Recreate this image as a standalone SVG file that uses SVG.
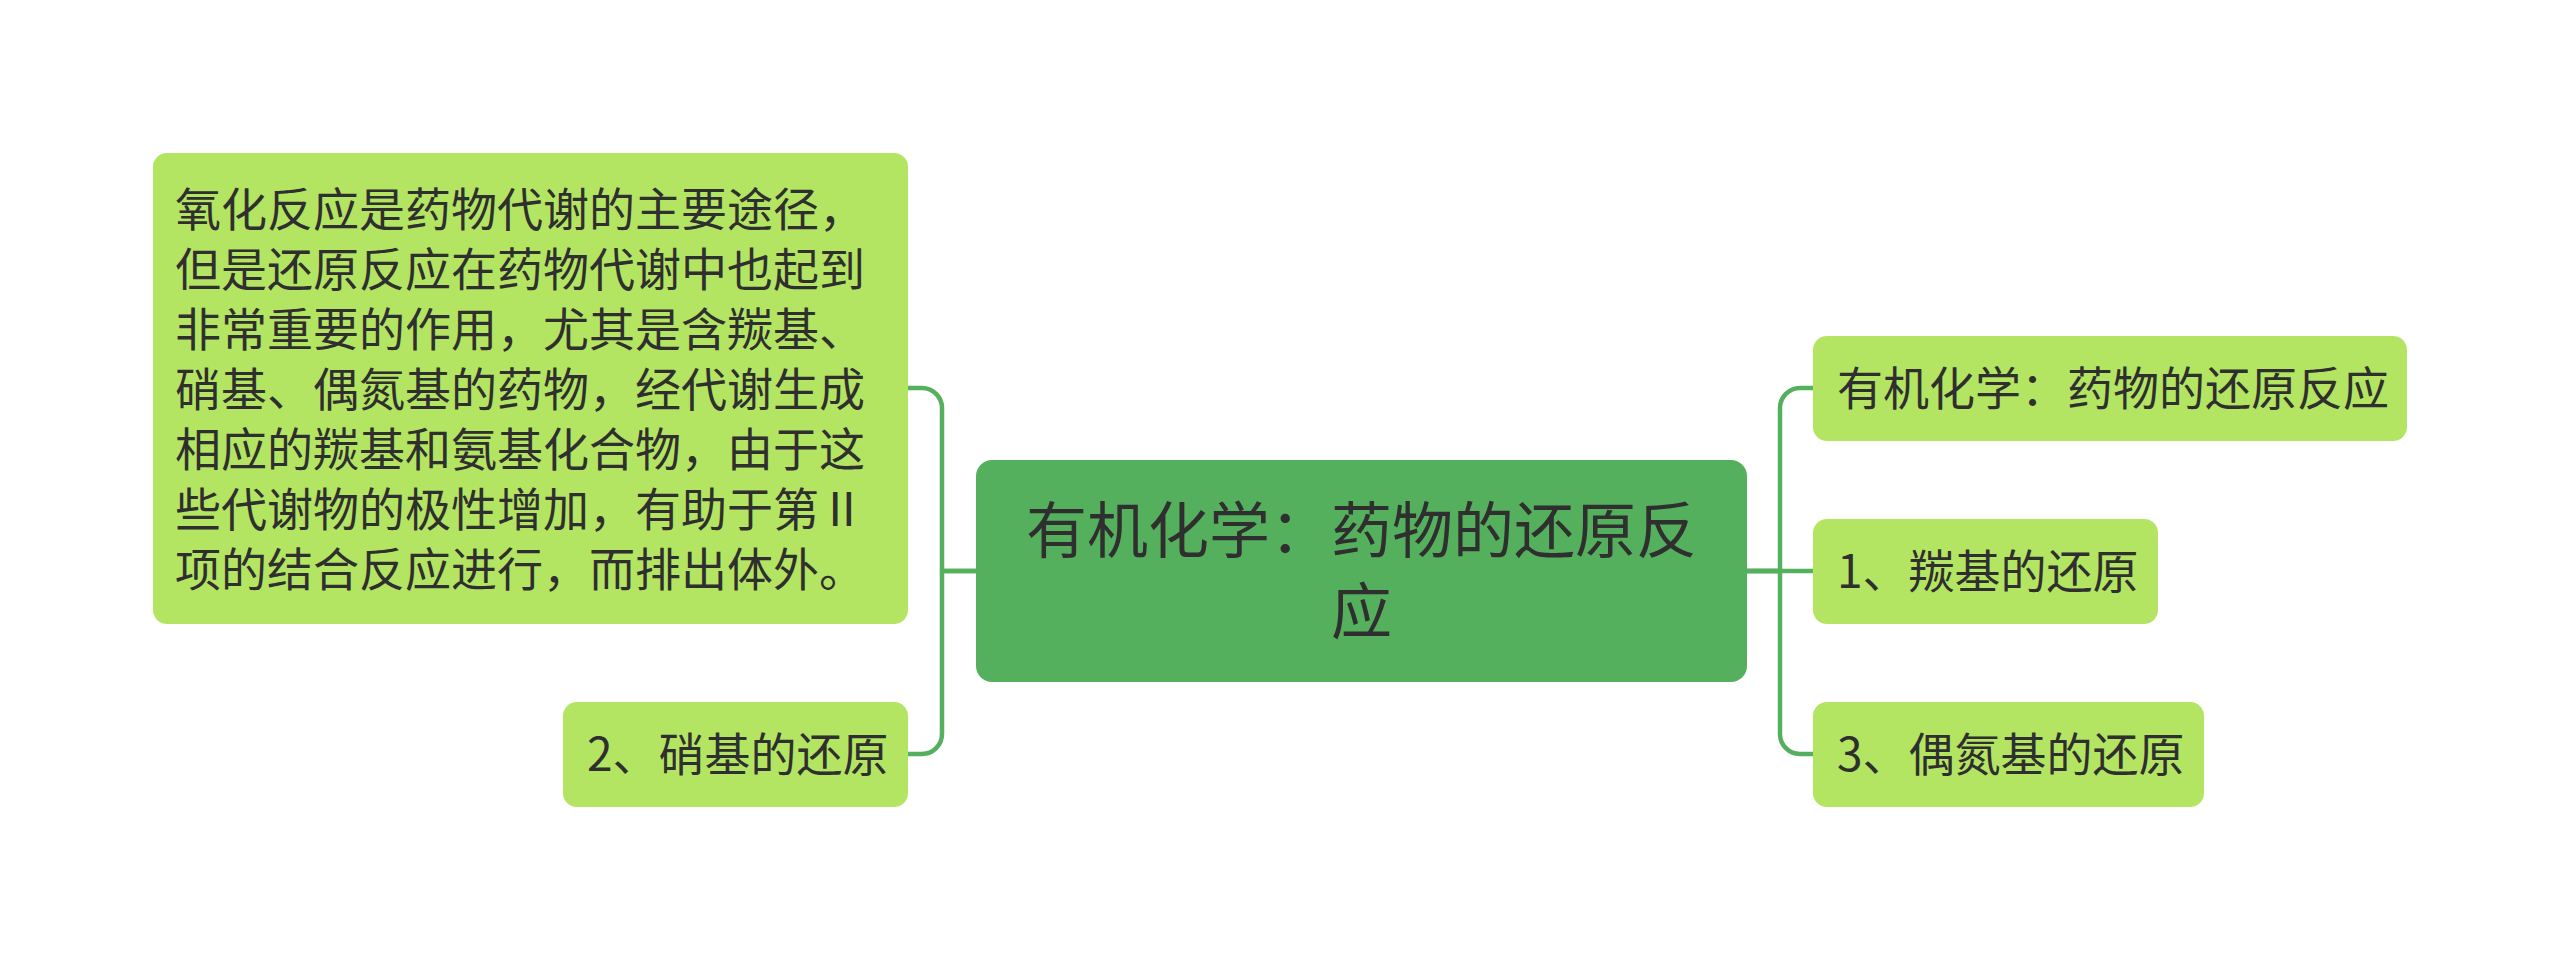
<svg xmlns="http://www.w3.org/2000/svg" width="2560" height="960" viewBox="0 0 2560 960">
<style>
.conn{fill:none;stroke:#55b05e;stroke-width:4.5;stroke-linecap:round;stroke-linejoin:round}
.child{fill:#b4e562}
.root{fill:#55b05e}
.t{font-family:"Noto Sans CJK SC","Noto Sans",sans-serif;fill:#2f2f2f}
.ts{font-size:46px}
.tr{font-size:61px;text-anchor:middle}
</style>
<rect width="2560" height="960" fill="#ffffff"/>
<g id="connectors">
<path class="conn" d="M976 571 H942 V408 A20 20 0 0 0 922 388 H908"/>
<path class="conn" d="M976 571 H942 V734 A20 20 0 0 1 922 754 H908"/>
<path class="conn" d="M1747 571 H1780 V408 A20 20 0 0 1 1800 388 H1813"/>
<path class="conn" d="M1747 571 H1813"/>
<path class="conn" d="M1747 571 H1780 V734 A20 20 0 0 0 1800 754 H1813"/>
</g>
<g id="root">
<rect class="root" x="976" y="460" width="771" height="222" rx="16"/>
<text class="t tr" x="1361.5" y="553">有机化学：药物的还原反</text>
<text class="t tr" x="1361.5" y="634">应</text>
</g>
<g id="left-desc">
<rect class="child" x="153" y="153" width="755" height="471" rx="14"/>
<text class="t ts" x="175" y="226">氧化反应是药物代谢的主要途径，</text>
<text class="t ts" x="175" y="286">但是还原反应在药物代谢中也起到</text>
<text class="t ts" x="175" y="346">非常重要的作用，尤其是含羰基、</text>
<text class="t ts" x="175" y="406">硝基、偶氮基的药物，经代谢生成</text>
<text class="t ts" x="175" y="466">相应的羰基和氨基化合物，由于这</text>
<text class="t ts" x="175" y="526">些代谢物的极性增加，有助于第Ⅱ</text>
<text class="t ts" x="175" y="586">项的结合反应进行，而排出体外。</text>
</g>
<g id="left-nitro">
<rect class="child" x="563" y="702" width="345" height="105" rx="14"/>
<text class="t ts" x="587" y="771">2、硝基的还原</text>
</g>
<g id="right-title">
<rect class="child" x="1813" y="336" width="594" height="105" rx="14"/>
<text class="t ts" x="1837" y="405">有机化学：药物的还原反应</text>
</g>
<g id="right-carbonyl">
<rect class="child" x="1813" y="519" width="345" height="105" rx="14"/>
<text class="t ts" x="1837" y="588">1、羰基的还原</text>
</g>
<g id="right-azo">
<rect class="child" x="1813" y="702" width="391" height="105" rx="14"/>
<text class="t ts" x="1837" y="771">3、偶氮基的还原</text>
</g>
</svg>
